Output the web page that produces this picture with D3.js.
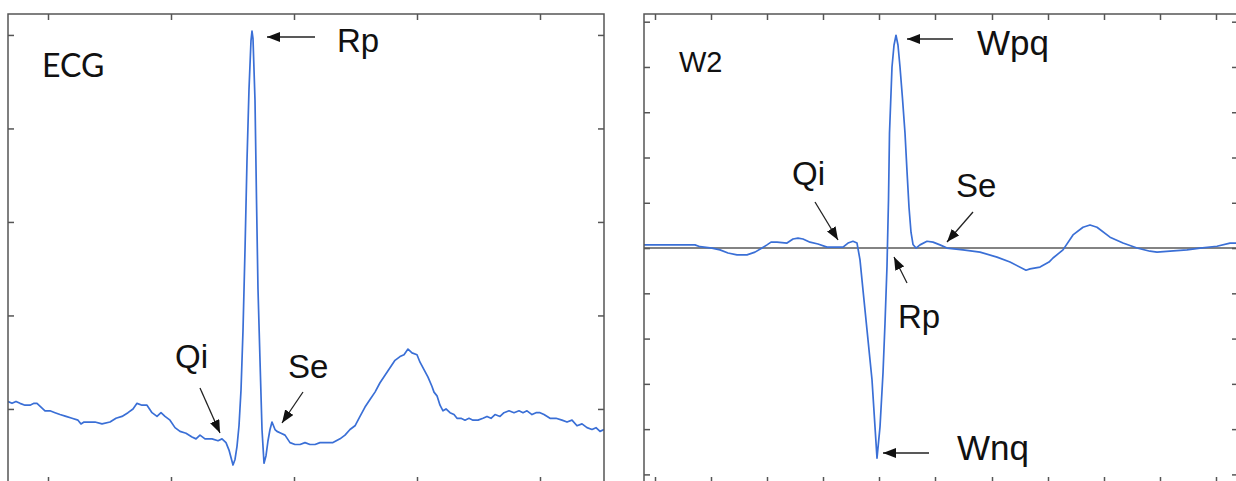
<!DOCTYPE html>
<html>
<head>
<meta charset="utf-8">
<script src="https://cdn.jsdelivr.net/npm/d3@7"></script>
<style>
    body { margin: 0; background: #ffffff; }
    svg { display: block; }
</style>
</head>
<body>
<div id="chart"></div>
<script>
// ECG beat (sample index, mV)
let ecgN = [0, 4, 8, 12, 17, 22, 26, 29, 33, 37, 42, 47, 52, 58, 64, 70, 73, 76, 80, 87, 94, 102,
    108, 114, 120, 125, 129, 134, 139, 144, 149, 153, 157, 162, 167, 172, 178, 184, 188, 192, 197,
    204, 210, 214, 218, 221, 223, 225, 227, 229, 231, 233, 235, 237, 239, 241, 243, 244, 245, 247,
    248.5, 250, 252, 254, 256, 258, 260, 262, 264, 267, 269, 273, 277, 282, 287, 292, 297, 302, 307,
    312, 319, 325, 332, 337, 342, 347, 352, 357, 362, 367, 372, 377, 382, 387, 392, 396, 400, 404,
    409, 412, 416, 420, 424, 426, 429, 432, 435, 438, 442, 446, 449, 453, 457, 461, 465, 470, 475,
    479, 483, 487, 492, 496, 501, 506, 511, 515, 519, 524, 528, 532, 536, 542, 548, 554, 559, 564,
    569, 574, 579, 584, 588, 592, 596];
let ecgV = [0.04, 0.03, 0.04, 0.03, 0.02, 0.02, 0.03, 0.03, 0.01, -0.01, -0.01, -0.02, -0.03, -0.04,
    -0.05, -0.06, -0.08, -0.07, -0.07, -0.07, -0.08, -0.07, -0.05, -0.04, -0.02, 0.00, 0.03, 0.02,
    0.02, -0.02, -0.04, -0.02, -0.04, -0.06, -0.10, -0.12, -0.13, -0.15, -0.16, -0.14, -0.16, -0.16,
    -0.17, -0.16, -0.18, -0.22, -0.26, -0.30, -0.27, -0.20, -0.09, 0.10, 0.42, 0.85, 1.33, 1.71,
    1.97, 2.02, 1.98, 1.65, 1.12, 0.64, 0.26, -0.11, -0.29, -0.25, -0.17, -0.11, -0.07, -0.11,
    -0.12, -0.13, -0.14, -0.18, -0.19, -0.19, -0.18, -0.19, -0.19, -0.18, -0.18, -0.18, -0.16,
    -0.14, -0.11, -0.09, -0.04, 0.01, 0.05, 0.09, 0.14, 0.18, 0.22, 0.26, 0.28, 0.29, 0.32, 0.30,
    0.29, 0.25, 0.21, 0.17, 0.12, 0.09, 0.07, 0.02, -0.01, 0.00, -0.02, -0.03, -0.05, -0.05, -0.06,
    -0.05, -0.06, -0.06, -0.05, -0.04, -0.05, -0.03, -0.04, -0.02, -0.01, -0.02, -0.01, -0.02,
    -0.01, -0.03, -0.02, -0.02, -0.03, -0.05, -0.05, -0.06, -0.07, -0.06, -0.09, -0.08, -0.10,
    -0.11, -0.10, -0.12, -0.11];

// Wavelet detail W2 (sample index, coefficient)
let w2N = [0, 51, 56, 68, 76, 84, 93, 103, 111, 118, 123, 127, 133, 143, 149, 154, 159, 166, 174,
    183, 191, 199, 204, 209, 213, 216, 219, 224, 228, 231, 233, 236, 239, 241, 243, 244.5, 245.5,
    248, 250, 252, 254, 256, 258.5, 261, 263, 265, 267, 269, 272, 276, 283, 289, 296, 303, 319, 336,
    353, 366, 382, 386, 396, 405, 409, 419, 429, 439, 446, 453, 466, 479, 493, 506, 513, 526, 543,
    556, 573, 586, 594];
let w2V = [0.07, 0.07, 0.03, 0.00, -0.04, -0.11, -0.15, -0.15, -0.09, 0.00, 0.07, 0.13, 0.13, 0.11,
    0.20, 0.22, 0.20, 0.13, 0.09, 0.02, 0.02, 0.02, 0.11, 0.15, 0.11, -0.26, -0.93, -2.03, -2.91,
    -3.95, -4.64, -3.95, -2.76, -1.66, -0.40, 1.06, 2.54, 4.00, 4.48, 4.70, 4.48, 4.00, 3.30, 2.54,
    1.70, 0.90, 0.35, 0.08, 0.00, 0.07, 0.15, 0.13, 0.07, 0.00, -0.04, -0.09, -0.20, -0.31, -0.49,
    -0.46, -0.42, -0.31, -0.22, -0.04, 0.29, 0.46, 0.51, 0.46, 0.24, 0.11, 0.00, -0.07, -0.09,
    -0.07, -0.04, 0.00, 0.04, 0.11, 0.11];

// tick positions
let ecgXTicks = [40, 163, 286, 409, 532];
let ecgYTicks = [0, 0.5, 1, 1.5, 2];
let w2XTicks = [11, 67, 123, 179, 235, 291, 348, 404, 460, 516, 572];
let w2YTicks = [-5, -4, -3, -2, -1, 0, 1, 2, 3, 4, 5];

let lineColor = "#3a6fd6";
let frameColor = "#555555";
let labelFont = "'Liberation Sans', Arial, sans-serif";

let svg = d3.select("#chart")
    .append("svg")
    .attr("width", 1236)
    .attr("height", 481);

// arrow head used by every annotation
svg.append("defs")
    .append("marker")
    .attr("id", "arrow")
    .attr("markerUnits", "userSpaceOnUse")
    .attr("markerWidth", 13)
    .attr("markerHeight", 10)
    .attr("refX", 13)
    .attr("refY", 5)
    .attr("orient", "auto")
    .append("path")
    .attr("d", "M0,0 L13,5 L0,10 Z")
    .attr("fill", "#111");

function drawPanel(p) {
    let g = svg.append("g")
        .attr("transform", "translate(" + p.left + "," + p.top + ")");

    let x = d3.scaleLinear().domain(p.xDomain).range([0, p.width]);
    let y = d3.scaleLinear().domain(p.yDomain).range([p.height, 0]);

    g.append("clipPath")
        .attr("id", p.id + "-clip")
        .append("rect")
        .attr("width", p.width)
        .attr("height", p.height);

    // inward ticks on all four sides, no labels
    let tick = 6;
    g.append("g")
        .call(d3.axisTop(x).tickValues(p.xTicks).tickSize(-tick).tickFormat(""));
    g.append("g")
        .attr("transform", "translate(0," + p.height + ")")
        .call(d3.axisBottom(x).tickValues(p.xTicks).tickSize(-tick).tickFormat(""));
    g.append("g")
        .call(d3.axisLeft(y).tickValues(p.yTicks).tickSize(-tick).tickFormat(""));
    g.append("g")
        .attr("transform", "translate(" + p.width + ",0)")
        .call(d3.axisRight(y).tickValues(p.yTicks).tickSize(-tick).tickFormat(""));
    g.selectAll(".domain").remove();
    g.selectAll(".tick line")
        .attr("stroke", frameColor)
        .attr("stroke-width", 1.5);

    // zero line
    if (p.zeroLine) {
        g.append("line")
            .attr("x1", 0)
            .attr("x2", p.width)
            .attr("y1", y(0))
            .attr("y2", y(0))
            .attr("stroke", "#5a5a5a")
            .attr("stroke-width", 1.5);
    }

    // the signal
    let pts = p.n.map(function(d, i) { return [d, p.v[i]]; });
    g.append("path")
        .datum(pts)
        .attr("clip-path", "url(#" + p.id + "-clip)")
        .attr("fill", "none")
        .attr("stroke", lineColor)
        .attr("stroke-width", 1.7)
        .attr("stroke-linejoin", "round")
        .attr("d", d3.line()
            .x(function(d) { return x(d[0]); })
            .y(function(d) { return y(d[1]); })
        );

    // frame
    g.append("rect")
        .attr("width", p.width)
        .attr("height", p.height)
        .attr("fill", "none")
        .attr("stroke", frameColor)
        .attr("stroke-width", 1.5);

    // panel title
    g.append("text")
        .attr("x", p.title.x)
        .attr("y", p.title.y)
        .style("font-family", p.title.font)
        .style("font-size", p.title.size + "px")
        .attr("fill", "#111")
        .text(p.title.text);

    // annotations
    p.notes.forEach(function(a) {
        g.append("line")
            .attr("x1", a.from[0])
            .attr("y1", a.from[1])
            .attr("x2", a.to[0])
            .attr("y2", a.to[1])
            .attr("stroke", "#222")
            .attr("stroke-width", 1.3)
            .attr("marker-end", "url(#arrow)");
        g.append("text")
            .attr("x", a.tx)
            .attr("y", a.ty)
            .style("font-family", labelFont)
            .style("font-size", a.size ? a.size + "px" : "33px")
            .attr("fill", "#111")
            .text(a.text);
    });
}

drawPanel({
    id: "ecg", left: 8, top: 14, width: 596, height: 469,
    xDomain: [0, 596], yDomain: [-0.396, 2.112],
    xTicks: ecgXTicks, yTicks: ecgYTicks,
    n: ecgN, v: ecgV, zeroLine: false,
    title: {text: "ECG", x: 34, y: 63, size: 32, font: "Lato, 'Open Sans', sans-serif"},
    notes: [
        {text: "Rp", tx: 329, ty: 38, from: [307, 23], to: [259, 23]},
        {text: "Qi", tx: 167, ty: 354, from: [192, 374], to: [212, 419]},
        {text: "Se", tx: 280, ty: 364, from: [295, 378], to: [274, 409]}
    ]
});

drawPanel({
    id: "w2", left: 644, top: 14, width: 594, height: 469,
    xDomain: [0, 594], yDomain: [-5.19, 5.17],
    xTicks: w2XTicks, yTicks: w2YTicks,
    n: w2N, v: w2V, zeroLine: true,
    title: {text: "W2", x: 35, y: 58, size: 29, font: labelFont},
    notes: [
        {text: "Wpq", tx: 333, ty: 41, size: 35, from: [309, 25], to: [263, 25]},
        {text: "Qi", tx: 148, ty: 171, from: [171, 188], to: [194, 226]},
        {text: "Se", tx: 312, ty: 183, from: [329, 198], to: [303, 228]},
        {text: "Rp", tx: 254, ty: 314, from: [263, 269], to: [250, 243]},
        {text: "Wnq", tx: 313, ty: 446, size: 35, from: [285, 439], to: [239, 439]}
    ]
});
</script>
</body>
</html>
